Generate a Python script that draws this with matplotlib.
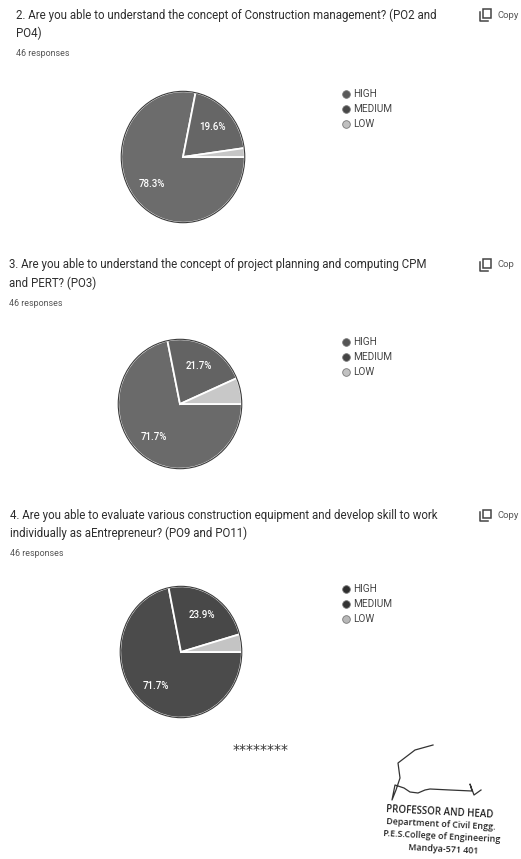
import numpy as np
import matplotlib
matplotlib.use('Agg')
import matplotlib.pyplot as plt
from matplotlib.lines import Line2D
from matplotlib.patches import Ellipse, Rectangle

W, H = 521, 859

# survey data (counts out of 46 responses)
levels = ['HIGH', 'MEDIUM', 'LOW']
q2_counts = [36, 9, 1]
q3_counts = [33, 10, 3]
q4_counts = [33, 11, 2]

q2_title = ['2. Are you able to understand the concept of Construction management? (PO2 and',
            'PO4)']
q3_title = ['3. Are you able to understand the concept of project planning and computing CPM',
            'and PERT? (PO3)']
q4_title = ['4. Are you able to evaluate various construction equipment and develop skill to work',
            'individually as aEntrepreneur? (PO9 and PO11)']
responses = '46 responses'

stamp = ['PROFESSOR AND HEAD', 'Department of Civil Engg.',
         'P.E.S.College of Engineering', 'Mandya-571 401']

# scanned grey tones
q2_cols = ['#6c6c6c', '#666666', '#c6c6c6']
q3_cols = ['#6a6a6a', '#636363', '#c8c8c8']
q4_cols = ['#4b4b4b', '#484848', '#c4c4c4']
q2_leg = ['#5a5a5a', '#484848', '#c0c0c0']
q3_leg = ['#555555', '#444444', '#c2c2c2']
q4_leg = ['#2e2e2e', '#333333', '#b8b8b8']

FONT = 'Roboto'
TXT = '#2e2e2e'

fig = plt.figure(figsize=(W/100, H/100), dpi=100)


def fx(x):
    return x / W


def fy(y):
    return 1 - y / H


def pct(p):
    return '%.1f%%' % p if p > 10 else ''


def block(top, x0, title, counts, cols, legc, cx, cy, rx, ry, copy_txt):
    fig.text(fx(x0), fy(top), title[0], fontsize=8.3, color=TXT, family=FONT, va='center')
    fig.text(fx(x0), fy(top + 18), title[1], fontsize=8.3, color=TXT, family=FONT, va='center')
    fig.text(fx(x0), fy(top + 38), responses, fontsize=6.4, color='#555555', family=FONT, va='center')

    # copy icon
    ix = 480
    fig.patches.append(Rectangle((fx(ix + 3), fy(top + 3)), fx(8), 8.5/H, transform=fig.transFigure,
                                 fill=False, ec='#444444', lw=1.1))
    fig.lines.append(Line2D([fx(ix), fx(ix), fx(ix + 8)], [fy(top - 3), fy(top + 6), fy(top + 6)],
                            transform=fig.transFigure, color='#444444', lw=1.1))
    fig.text(fx(ix + 17), fy(top), copy_txt, fontsize=6.8, color='#555555', family=FONT, va='center')

    ax = fig.add_axes([fx(cx - rx), fy(cy + ry), 2*rx/W, 2*ry/H])
    wedges, texts, autotexts = ax.pie(counts, colors=cols, startangle=0, counterclock=False,
                                      autopct=pct, pctdistance=0.66,
                                      wedgeprops=dict(edgecolor='white', linewidth=1.3),
                                      textprops=dict(color='white', fontsize=7, family=FONT,
                                                     fontweight='medium'))
    ax.set_aspect('auto')
    ax.set_xlim(-1.02, 1.02)
    ax.set_ylim(-1.02, 1.02)
    ax.add_patch(Ellipse((0, 0), 2, 2, fill=False, ec='#3a3a3a', lw=0.8))
    ax.axis('off')

    handles = [Line2D([], [], marker='o', ls='', ms=5.5, mfc=c, mec='#777777', mew=0.6) for c in legc]
    fig.legend(handles, levels, loc='upper left', bbox_to_anchor=(fx(337), fy(cy - ry - 5)),
               frameon=False, handletextpad=0.2, labelspacing=0.5,
               borderaxespad=0, handlelength=1.0, labelcolor='#444444',
               prop=dict(family=FONT, size=7.2))


block(15, 16, q2_title, q2_counts, q2_cols, q2_leg, 183, 157, 63, 67, 'Copy')
block(265, 9, q3_title, q3_counts, q3_cols, q3_leg, 180, 404, 63, 66, 'Cop')
block(515, 10, q4_title, q4_counts, q4_cols, q4_leg, 181, 652, 62, 67, 'Copy')

fig.text(fx(261), fy(750), '********', fontsize=10, color='#333333', family='DejaVu Sans',
         ha='center', va='center')

# signature scribble
sig_x = [433, 415, 398, 400, 396, 392, 395, 404, 410, 418, 425, 430, 450, 472, 470, 474, 481]
sig_y = [745, 750, 763, 778, 790, 800, 785, 788, 792, 793, 790, 789, 790, 791, 784, 795, 790]
fig.lines.append(Line2D([fx(v) for v in sig_x], [fy(v) for v in sig_y], transform=fig.transFigure,
                        color='#333333', lw=0.9))

for i, s in enumerate(stamp):
    fig.text(fx(440 + i * 1), fy(812 + i * 12.5), s, fontsize=7 if i == 0 else 6.4,
             color='#222222', family='Open Sans', fontweight='semibold', ha='center', va='center',
             rotation=-3)

plt.savefig('out.png', dpi=100, facecolor='white')
